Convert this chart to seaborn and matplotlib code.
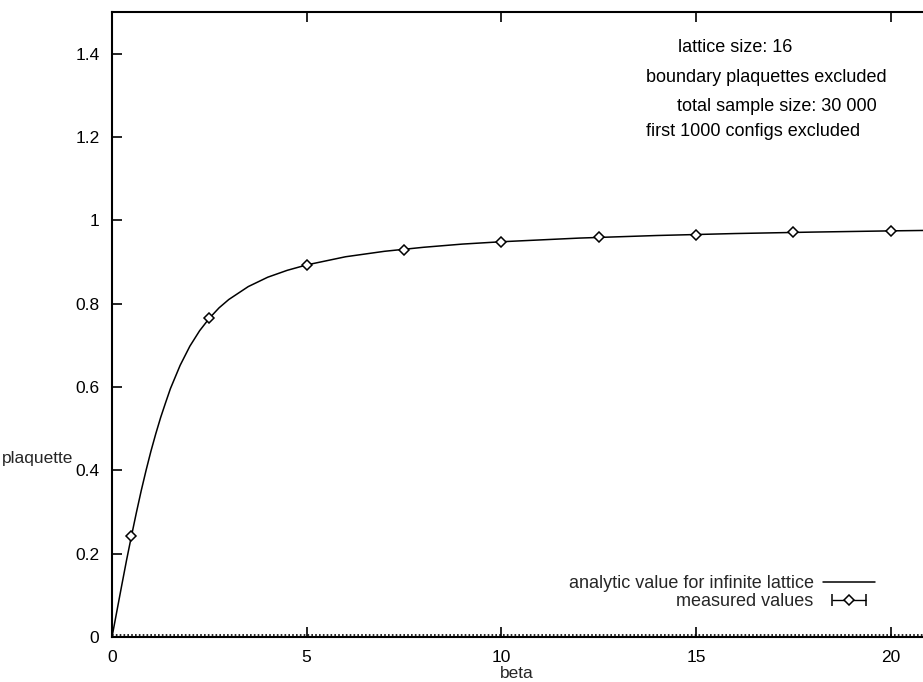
import numpy as np
import pandas as pd
import matplotlib
matplotlib.use("Agg")
import matplotlib.pyplot as plt
from matplotlib.container import ErrorbarContainer
from matplotlib.legend_handler import HandlerErrorbar
import seaborn as sns

# --- data ---
# analytic curve for the infinite lattice (read point by point)
curve_beta = [0.0, 0.125, 0.25, 0.375, 0.5, 0.625, 0.75, 0.875, 1.0, 1.125,
              1.25, 1.375, 1.5, 1.625, 1.75, 2.0, 2.25, 2.5, 2.75, 3.0, 3.5,
              4.0, 4.5, 5.0, 6.0, 7.0, 8.0, 9.0, 10.0, 12.0, 14.0, 16.0,
              18.0, 20.0, 21.0]
curve_plaq = [0.0, 0.062, 0.124, 0.185, 0.2425, 0.298, 0.351, 0.400, 0.446,
              0.488, 0.527, 0.562, 0.596, 0.624, 0.652, 0.698, 0.735, 0.765,
              0.790, 0.810, 0.841, 0.8635, 0.880, 0.893, 0.9126, 0.9257,
              0.9353, 0.943, 0.9486, 0.9574, 0.9636, 0.9683, 0.9718, 0.9747,
              0.9759]

# measured values
meas_beta = [0.5, 2.5, 5.0, 7.5, 10.0, 12.5, 15.0, 17.5, 20.0]
meas_plaq = [0.243, 0.765, 0.893, 0.930, 0.948, 0.959, 0.966, 0.971, 0.974]
meas_err = [0.002, 0.002, 0.002, 0.002, 0.002, 0.002, 0.002, 0.002, 0.002]

info_lines = ["lattice size: 16", "boundary plaquettes excluded",
              "total sample size: 30 000", "first 1000 configs excluded"]

x_ticks = [0, 5, 10, 15, 20]
y_ticks = [0, 0.2, 0.4, 0.6, 0.8, 1.0, 1.2, 1.4]
y_tick_labels = ["0", "0.2", "0.4", "0.6", "0.8", "1", "1.2", "1.4"]

# ======================================================
# figure setup
# ======================================================
sns.set_theme(style="ticks")
plt.rcParams["font.family"] = ["Liberation Sans", "DejaVu Sans"]

fig = plt.figure(figsize=(9.23, 6.82), dpi=100)
ax = fig.add_axes([112 / 923, 1 - 637 / 682, 1 - 112 / 923, (637 - 12) / 682])

curve_df = pd.DataFrame({"beta": curve_beta, "plaquette": curve_plaq})
sns.lineplot(data=curve_df, x="beta", y="plaquette", ax=ax, color="black",
             linewidth=1.1, label="analytic value for infinite lattice")

ax.errorbar(meas_beta, meas_plaq, yerr=meas_err, fmt="D", color="black",
            markerfacecolor="white", markeredgecolor="black", markersize=5,
            markeredgewidth=1.1, elinewidth=1, capsize=2, zorder=3)
# legend sample only (horizontal bar like the original, nothing drawn)
ax.errorbar([np.nan], [np.nan], xerr=[0.1], fmt="D", color="black",
            markerfacecolor="white", markeredgecolor="black",
            markersize=5, markeredgewidth=1.1, elinewidth=1,
            capsize=4, capthick=1.1, label="measured values")

# dotted zero axis
ax.axhline(0.004, color="black", linewidth=1.2, linestyle=(0, (1, 1.3)))

ax.set_xlim(0, 20.83)
ax.set_ylim(0, 1.5)
ax.set_xticks(x_ticks)
ax.set_xticklabels([str(t) for t in x_ticks])
ax.set_yticks(y_ticks)
ax.set_yticklabels(y_tick_labels)
ax.tick_params(direction="in", length=7, width=1.2, labelsize=12.5,
               colors="black", top=True, right=False, pad=9)
ax.set_xlabel("")
ax.set_ylabel("")
for side in ["left", "top", "bottom"]:
    ax.spines[side].set_linewidth(1.5)
    ax.spines[side].set_color("black")
ax.spines["right"].set_visible(False)

# info labels top right
info_x = [14.54, 13.72, 14.52, 13.72]
info_y = [1.415, 1.343, 1.273, 1.213]
for tx, ty, s in zip(info_x, info_y, info_lines):
    ax.text(tx, ty, s, fontsize=13, ha="left", va="center", color="black")

fig.text(517 / 923, 1 - 673 / 682, "beta", fontsize=12.5, ha="center",
         va="center")
fig.text(38 / 923, 1 - 458 / 682, "plaquette", fontsize=12.5, ha="center",
         va="center")

handles, labels = ax.get_legend_handles_labels()
ax.legend(handles, labels, loc="lower right", markerfirst=False,
          frameon=False, fontsize=13, handlelength=2.9, handletextpad=0.5,
          labelspacing=0.05, borderpad=0, borderaxespad=0,
          bbox_to_anchor=(875 / 923, 1 - 610 / 682),
          bbox_transform=fig.transFigure,
          handler_map={ErrorbarContainer: HandlerErrorbar(xerr_size=0.95)})

fig.savefig("out.png", dpi=100)
plt.close(fig)
